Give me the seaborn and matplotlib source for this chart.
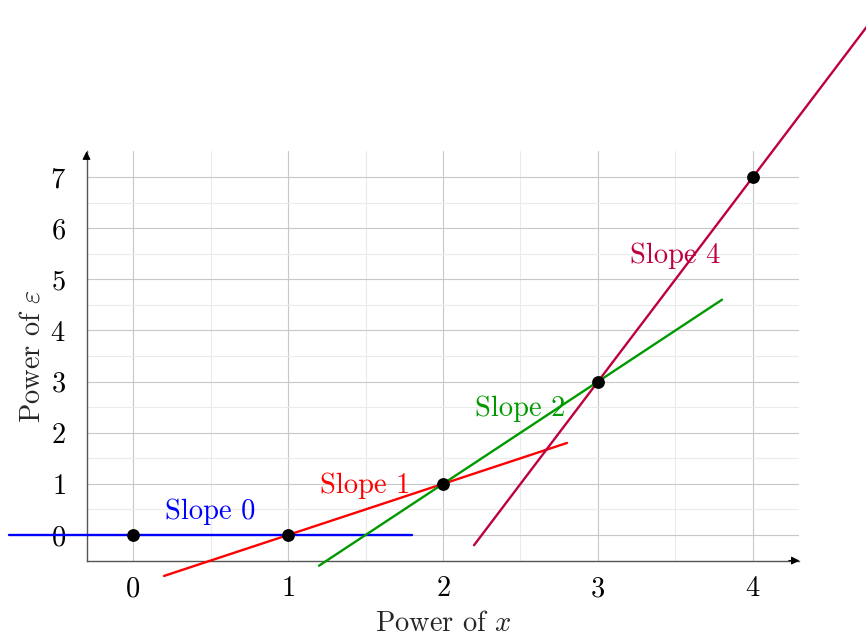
import matplotlib
matplotlib.use('Agg')
import matplotlib.pyplot as plt
import seaborn as sns
import numpy as np
import pandas as pd

# data: powers of x against powers of epsilon
power_x = [0, 1, 2, 3, 4]
power_eps = [0, 0, 1, 3, 7]
slope_names = ['Slope 0', 'Slope 1', 'Slope 2', 'Slope 4']
slope_colors = ['#0000ff', '#ff0000', '#009900', '#bf0040']
x_ticks = [0, 1, 2, 3, 4]
y_ticks = [0, 1, 2, 3, 4, 5, 6, 7]

extend = 0.8  # how far each secant runs past its two points

# secant segments through neighbouring points
rows = []
for k, name in enumerate(slope_names):
    x0, x1 = power_x[k], power_x[k + 1]
    y0, y1 = power_eps[k], power_eps[k + 1]
    m = (y1 - y0) / (x1 - x0)
    for xx in (x0 - extend, x1 + extend):
        rows.append({'x': xx, 'y': y0 + m * (xx - x0), 'line': name})
secants = pd.DataFrame(rows)
points = pd.DataFrame({'x': power_x, 'y': power_eps})

sns.set_style('white')
plt.rcParams['font.family'] = ['cmr10', 'DejaVu Serif']
plt.rcParams['mathtext.fontset'] = 'cm'
plt.rcParams['axes.formatter.use_mathtext'] = True
plt.rcParams['axes.unicode_minus'] = False

fig = plt.figure(figsize=(8.66, 6.39), dpi=100)
ax = fig.add_axes([0.0999, 0.1227, 0.8233, 0.6404])

sns.lineplot(secants, x='x', y='y', hue='line', hue_order=slope_names,
             palette=slope_colors, estimator=None, sort=False,
             legend=False, lw=1.7, ax=ax, zorder=3)
for ln in ax.lines:
    ln.set_clip_on(False)

sns.scatterplot(points, x='x', y='y', color='black', s=85,
                edgecolor='black', linewidth=0, zorder=5, clip_on=False, ax=ax)

# labels above the middle of each secant
for k, name in enumerate(slope_names):
    mx = (power_x[k] + power_x[k + 1]) / 2
    my = (power_eps[k] + power_eps[k + 1]) / 2
    ax.annotate(name, (mx, my), xytext=(0, 17), textcoords='offset points',
                ha='center', va='center', color=slope_colors[k],
                fontsize=20.5, zorder=2, annotation_clip=False)

ax.set_xlim(-0.3, 4.3)
ax.set_ylim(-0.5, 7.5)
ax.set_xticks(x_ticks)
ax.set_yticks(y_ticks)
ax.set_xticks(np.array(x_ticks[:-1]) + 0.5, minor=True)
ax.set_yticks(np.array(y_ticks[:-1]) + 0.5, minor=True)

ax.grid(which='major', color='#c8c8c8', lw=0.8)
ax.grid(which='minor', color='#ebebeb', lw=0.8)
ax.set_axisbelow(True)

for s in ['top', 'right']:
    ax.spines[s].set_visible(False)
for s in ['left', 'bottom']:
    ax.spines[s].set_color('#555555')
    ax.spines[s].set_linewidth(1.0)

ax.tick_params(which='major', direction='inout', length=8, width=0.8,
               color='#555555', labelsize=20.5, labelcolor='black')
ax.tick_params(which='minor', direction='inout', length=5, width=0.6,
               color='#555555')
ax.tick_params(axis='y', which='major', pad=11)
ax.tick_params(axis='x', which='major', pad=7)

# arrow heads on the axes
ax.annotate('', xy=(1.0, 0), xytext=(0.985, 0), xycoords='axes fraction',
            arrowprops=dict(arrowstyle='-|>', color='black', lw=0.8,
                            mutation_scale=12, shrinkA=0, shrinkB=0))
ax.annotate('', xy=(0, 1.0), xytext=(0, 0.98), xycoords='axes fraction',
            arrowprops=dict(arrowstyle='-|>', color='black', lw=0.8,
                            mutation_scale=12, shrinkA=0, shrinkB=0))

ax.set_xlabel('Power of $x$', fontsize=20.5, labelpad=6)
ax.set_ylabel(r'Power of $\varepsilon$', fontsize=20.5, labelpad=3)

fig.savefig('out.png', dpi=100)
